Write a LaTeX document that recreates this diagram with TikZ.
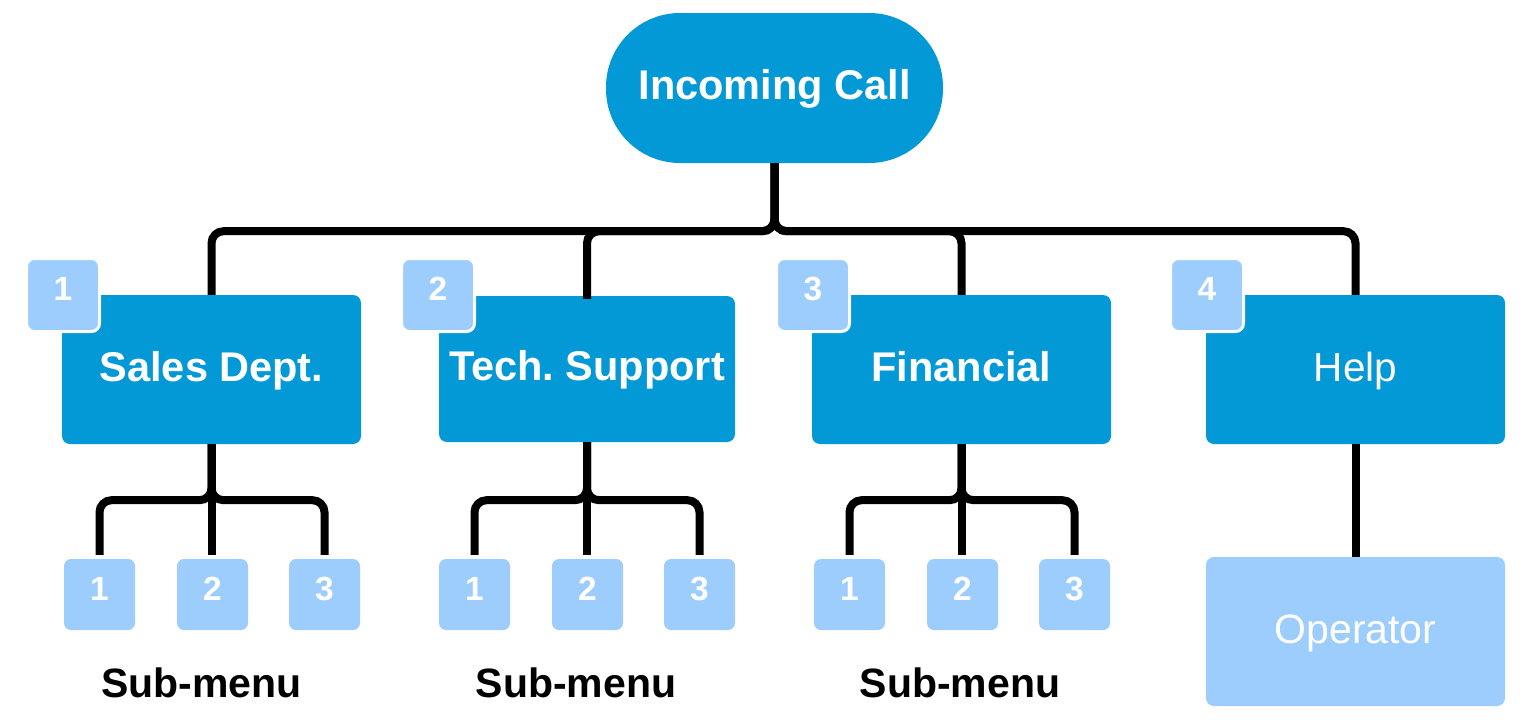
\documentclass[tikz,border=0pt]{standalone}
\usepackage{fontspec}
\setmainfont{Liberation Sans}
\frenchspacing
\definecolor{dblue}{RGB}{3,152,214}
\definecolor{lblue}{RGB}{157,205,253}
\begin{document}
\begin{tikzpicture}[x=1pt,y=-1pt,
  bigbox/.style={fill=dblue, rounded corners=8pt, minimum width=299pt, minimum height=149pt,
    text=white, font=\fontsize{41.5}{48}\selectfont\bfseries, text height=30pt, text depth=7pt, inner sep=0pt},
  pill/.style={bigbox, rounded corners=74pt, minimum width=337pt, minimum height=150pt},
  badge/.style={fill=lblue, draw=white, line width=3pt, rounded corners=8pt, minimum size=73pt, inner sep=0pt,
    text=white, font=\fontsize{33.5}{40}\selectfont\bfseries, text height=24pt, text depth=14pt},
  subbox/.style={fill=lblue, rounded corners=7pt, minimum size=71pt, inner sep=0pt,
    text=white, font=\fontsize{33.5}{40}\selectfont\bfseries, text height=24pt, text depth=13pt},
  sublabel/.style={anchor=base, inner sep=0pt, font=\fontsize{41}{48}\selectfont\bfseries},
  wire/.style={line width=8pt, rounded corners=12pt, black}
]
\useasboundingbox (0,0) rectangle (1526,728);

% main nodes
\node[pill] (call) at (774.5,88) {Incoming Call};
\node[bigbox] (sales) at (211.5,369.5) {Sales Dept.};
\node[bigbox, minimum width=296pt, minimum height=146pt] (tech) at (587,369) {Tech. Support};
\node[bigbox] (fin) at (961.5,369.5) {Financial};
\node[bigbox, font=\fontsize{40.5}{48}\selectfont] (help) at (1355.5,369.5) {Help};
\node[bigbox, fill=lblue, font=\fontsize{41}{48}\selectfont] (op) at (1355.5,631.5) {Operator};

% badges
\node[badge] (b1) at (63,295) {1};
\node[badge] (b2) at (438,295) {2};
\node[badge] (b3) at (813,295) {3};
\node[badge] (b4) at (1207,295) {4};

% submenu boxes
\node[subbox] (s11) at (99.5,594.5) {1};
\node[subbox] (s12) at (212.5,594.5) {2};
\node[subbox] (s13) at (324.5,594.5) {3};
\node[subbox] (s21) at (474.5,594.5) {1};
\node[subbox] (s22) at (587.5,594.5) {2};
\node[subbox] (s23) at (699.5,594.5) {3};
\node[subbox] (s31) at (849.5,594.5) {1};
\node[subbox] (s32) at (962.5,594.5) {2};
\node[subbox] (s33) at (1074.5,594.5) {3};

% sub-menu labels
\node[sublabel] (l1) at (201.5,697) {Sub-menu};
\node[sublabel] (l2) at (576,697) {Sub-menu};
\node[sublabel] (l3) at (960,697) {Sub-menu};

% top connectors
\draw[wire] (call.south) -- ++(0,68) -| (sales.north);
\draw[wire] (call.south) -- ++(0,68) -| ([yshift=-3pt]tech.north);
\draw[wire] (call.south) -- ++(0,68) -| (fin.north);
\draw[wire] (call.south) -- ++(0,68) -| (help.north);

% submenu connectors
\draw[wire, shorten >=4pt] (sales.south) -- ++(0,56) -| (s11.north);
\draw[wire, shorten >=4pt] (sales.south) -- ++(0,56) -| (s13.north);
\draw[wire, shorten >=4pt] (sales.south) -- (sales.south |- s12.north);
\draw[wire, shorten >=4pt] (tech.south) -- ++(0,58) -| (s21.north);
\draw[wire, shorten >=4pt] (tech.south) -- ++(0,58) -| (s23.north);
\draw[wire, shorten >=4pt] (tech.south) -- (tech.south |- s22.north);
\draw[wire, shorten >=4pt] (fin.south) -- ++(0,56) -| (s31.north);
\draw[wire, shorten >=4pt] (fin.south) -- ++(0,56) -| (s33.north);
\draw[wire, shorten >=4pt] (fin.south) -- (fin.south |- s32.north);

\draw[wire] (help.south) -- (op.north);
\end{tikzpicture}
\end{document}
